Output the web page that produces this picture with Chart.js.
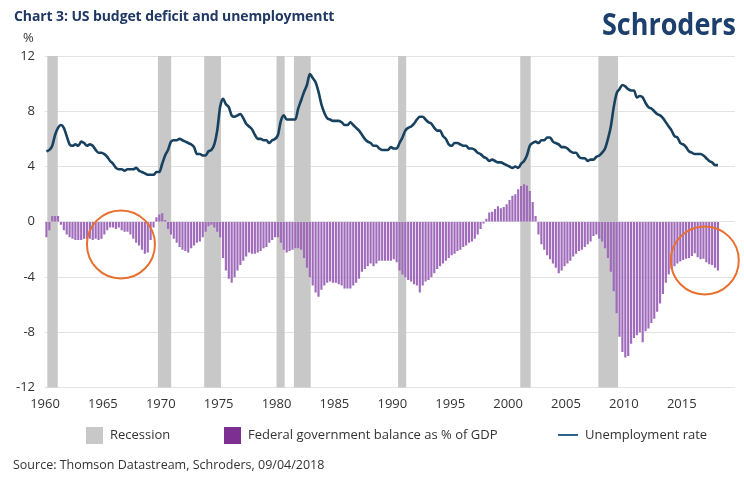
<!DOCTYPE html>
<html><head><meta charset="utf-8">
<script src="https://cdn.jsdelivr.net/npm/chart.js@4.4.1/dist/chart.umd.min.js"></script>
<style>
html,body{margin:0;padding:0;background:#fff;}
#wrap{position:relative;width:744px;height:480px;overflow:hidden;font-family:"Open Sans",sans-serif;}
canvas{position:absolute;left:0;top:0;}
.t{position:absolute;white-space:nowrap;line-height:1;}
#title{left:14px;top:8.6px;font-size:14px;font-weight:700;color:#1f3864;letter-spacing:-0.1px;}
#logo{left:602px;top:8px;font-size:31px;font-weight:700;color:#1d3f6e;transform-origin:left top;}
#pct{left:23px;top:30.5px;font-size:13px;color:#333;}
.leg{top:428.2px;font-size:13px;color:#333;}
.sw{position:absolute;top:427px;width:17px;height:17px;}
#source{left:13px;top:459.4px;font-size:12.5px;color:#333;}
</style></head>
<body>
<div id="wrap">
<canvas id="c" width="744" height="480"></canvas>
<div class="t" id="title">Chart 3: US budget deficit and unemploymentt</div>
<div class="t" id="logo">Schroders</div>
<div class="t" id="pct">%</div>
<div class="sw" style="left:86px;background:#c8c8c8"></div>
<div class="t leg" style="left:110px">Recession</div>
<div class="sw" style="left:224px;background:#7d2f92"></div>
<div class="t leg" style="left:248px">Federal government balance as % of GDP</div>
<div style="position:absolute;left:558px;top:434px;width:20px;height:2px;background:#2a6489"></div>
<div class="t leg" style="left:585px">Unemployment rate</div>
<div class="t" id="source">Source: Thomson Datastream, Schroders, 09/04/2018</div>
</div>
<script>
// Quarterly series, first value = 1960 Q1
const firstYear = 1960;
const budgetBalance = [
 -1.1,-0.6,0.4,0.4,   0.4,-0.2,-0.6,-0.9,   -1.1,-1.2,-1.3,-1.3,   -1.3,-1.2,-1.2,-1.2,
 -1.3,-1.2,-1.3,-1.2, -0.9,-0.6,-0.4,-0.4,  -0.5,-0.4,-0.6,-0.7,   -0.7,-0.9,-1.2,-1.5,
 -1.7,-2.0,-2.3,-2.2, -1.3,-0.4,0.3,0.5,    0.6,0.1,-0.5,-0.9,     -1.2,-1.5,-1.8,-2.0,
 -2.1,-2.2,-1.9,-1.7, -1.5,-1.4,-1.1,-0.7,  -0.3,-0.2,-0.4,-0.7,   -1.1,-2.6,-3.5,-4.1,
 -4.4,-4.0,-3.5,-3.1, -2.8,-2.5,-2.2,-2.3,  -2.3,-2.2,-2.1,-1.9,   -1.8,-1.5,-1.3,-1.1,
 -1.1,-1.5,-2.0,-2.2, -2.1,-2.0,-1.9,-1.9,  -2.0,-2.6,-3.3,-4.0,   -4.6,-5.1,-5.4,-4.9,
 -4.6,-4.4,-4.3,-4.4, -4.4,-4.5,-4.6,-4.8,  -4.8,-4.8,-4.6,-4.4,   -4.1,-3.6,-3.4,-3.2,
 -3.0,-3.2,-3.0,-2.8, -2.8,-2.8,-2.8,-2.8,  -2.7,-2.9,-3.5,-3.8,   -4.0,-4.2,-4.3,-4.5,
 -4.6,-5.1,-4.6,-4.3, -4.2,-4.0,-3.7,-3.4,  -3.2,-3.0,-2.8,-2.6,   -2.4,-2.3,-2.1,-2.0,
 -1.8,-1.7,-1.5,-1.4, -1.2,-0.9,-0.5,-0.1,  0.2,0.65,0.7,0.9,      1.1,0.95,1.05,1.25,
 1.55,1.85,1.97,2.33, 2.57,2.7,2.6,2.2,     1.4,0.4,-0.9,-1.6,     -2.0,-2.4,-2.7,-3.0,
 -3.3,-3.7,-3.5,-3.2, -3.0,-2.8,-2.5,-2.3,  -2.1,-2.0,-1.8,-1.6,   -1.4,-1.0,-0.9,-1.2,
 -1.4,-1.9,-2.6,-3.6, -5.0,-6.6,-8.3,-9.4,  -9.8,-9.7,-8.8,-8.4,   -8.2,-8.0,-8.7,-7.9,
 -7.7,-7.3,-7.0,-6.5, -5.9,-5.2,-4.4,-3.8,  -3.4,-3.2,-3.0,-2.85,  -2.75,-2.65,-2.6,-2.45,
 -2.25,-2.55,-2.7,-2.65, -2.9,-3.05,-3.1,-3.3, -3.5
];
const unemployment = [
 5.1,5.2,5.5,6.3, 6.8,7.0,6.8,6.2, 5.6,5.5,5.6,5.5, 5.8,5.7,5.5,5.6,
 5.5,5.2,5.0,5.0, 4.9,4.7,4.4,4.2, 3.9,3.8,3.8,3.7, 3.8,3.8,3.8,3.9,
 3.7,3.6,3.5,3.4, 3.4,3.4,3.6,3.6, 4.2,4.8,5.2,5.8, 5.9,5.9,6.0,5.9,
 5.8,5.7,5.6,5.4, 4.9,4.9,4.8,4.8, 5.1,5.2,5.6,6.6, 8.3,8.9,8.5,8.3,
 7.7,7.6,7.7,7.8, 7.5,7.1,6.9,6.7, 6.3,6.0,6.0,5.9, 5.9,5.7,5.9,6.0,
 6.3,7.3,7.7,7.4, 7.4,7.4,7.4,8.2, 8.8,9.4,9.9,10.7, 10.4,10.1,9.4,8.5,
 7.9,7.5,7.4,7.3, 7.3,7.3,7.2,7.0, 7.0,7.2,7.0,6.8, 6.6,6.3,6.0,5.8,
 5.7,5.5,5.5,5.3, 5.2,5.2,5.2,5.4, 5.3,5.3,5.7,6.1, 6.6,6.8,6.9,7.1,
 7.4,7.6,7.6,7.4, 7.2,7.1,6.8,6.6, 6.6,6.2,6.0,5.6, 5.5,5.7,5.7,5.6,
 5.5,5.5,5.3,5.3, 5.2,5.0,4.9,4.7, 4.6,4.4,4.5,4.4, 4.3,4.3,4.2,4.1,
 4.0,3.9,4.0,3.9, 4.2,4.4,4.8,5.5, 5.7,5.8,5.7,5.9, 5.9,6.1,6.1,5.8,
 5.7,5.6,5.4,5.4, 5.3,5.1,5.0,5.0, 4.7,4.6,4.6,4.4, 4.5,4.5,4.7,4.8,
 5.0,5.3,6.0,6.9, 8.3,9.3,9.6,9.9, 9.8,9.6,9.5,9.5, 9.0,9.1,9.0,8.6,
 8.3,8.2,8.0,7.8, 7.7,7.5,7.2,6.9, 6.6,6.2,6.1,5.7, 5.6,5.4,5.1,5.0,
 4.9,4.9,4.9,4.8, 4.6,4.4,4.3,4.1, 4.1
];
const recessionStart = [1960.2, 1969.75, 1973.75, 1980.0, 1981.5, 1990.5, 2001.05, 2007.8];
const recessionEnd   = [1961.1, 1970.9, 1975.2, 1980.7, 1982.95, 1991.2, 2001.95, 2009.5];
const yTickValues = [-12, -8, -4, 0, 4, 8, 12];
const xTickYears = [1960,1965,1970,1975,1980,1985,1990,1995,2000,2005,2010,2015];
// highlighted areas (centre year, centre value)
const highlightYears = [1966.56, 2016.99];
const highlightValues = [-1.64, -2.8];

const qx = i => firstYear + i * 0.25 + 0.125;

const bandsPlugin = {
  id: 'bands',
  beforeDatasetsDraw(chart) {
    const {ctx, chartArea: a, scales: {x}} = chart;
    ctx.save();
    ctx.fillStyle = '#c8c8c8';
    recessionStart.forEach((s, i) => {
      const x0 = x.getPixelForValue(s), x1 = x.getPixelForValue(recessionEnd[i]);
      ctx.fillRect(x0, a.top, x1 - x0, a.bottom - a.top);
    });
    ctx.restore();
  }
};
const circlePlugin = {
  id: 'circles',
  afterDatasetsDraw(chart) {
    const {ctx, scales: {x, y}} = chart;
    ctx.save();
    ctx.strokeStyle = '#e8702e';
    ctx.lineWidth = 2;
    highlightYears.forEach((yr, i) => {
      ctx.beginPath();
      ctx.arc(x.getPixelForValue(yr), y.getPixelForValue(highlightValues[i]), 34, 0, Math.PI * 2);
      ctx.stroke();
    });
    ctx.restore();
  }
};

const tickFont = {family: 'Open Sans', size: 13};
new Chart(document.getElementById('c'), {
  type: 'bar',
  data: {
    datasets: [
      {
        type: 'line', label: 'Unemployment rate', order: 0,
        data: unemployment.map((v, i) => ({x: qx(i), y: v})),
        borderColor: '#17415f', borderWidth: 2.6, pointRadius: 0,
        cubicInterpolationMode: 'monotone', fill: false
      },
      {
        type: 'bar', label: 'Federal government balance as % of GDP', order: 1,
        data: budgetBalance.map((v, i) => ({x: qx(i), y: v})),
        backgroundColor: '#a06bbb', barThickness: 1.5
      }
    ]
  },
  options: {
    responsive: false, animation: false, devicePixelRatio: 1,
    layout: {padding: {left: 0, top: 56, right: 9, bottom: 62.5}},
    plugins: {legend: {display: false}, tooltip: {enabled: false}},
    scales: {
      x: {
        type: 'linear', min: 1960, max: 2019.6, offset: false,
        grid: {display: false}, border: {display: false},
        afterBuildTicks: s => { s.ticks = xTickYears.map(v => ({value: v})); },
        afterFit: s => { s.height = 30; },
        ticks: {padding: 1, maxRotation: 0, autoSkip: false, color: '#333', font: tickFont, callback: v => String(v)}
      },
      y: {
        min: -12, max: 12,
        afterBuildTicks: s => { s.ticks = yTickValues.map(v => ({value: v})); },
        afterFit: s => { s.width = 45; },
        grid: {color: '#e3e3e3', drawTicks: false, lineWidth: 1},
        border: {display: false},
        ticks: {padding: 10, color: '#333', font: tickFont, callback: v => String(v)}
      }
    }
  },
  plugins: [bandsPlugin, circlePlugin]
});

const logo = document.getElementById('logo');
const w = logo.getBoundingClientRect().width;
logo.style.transform = 'scaleX(' + (134 / w) + ')';
</script>
</body></html>
